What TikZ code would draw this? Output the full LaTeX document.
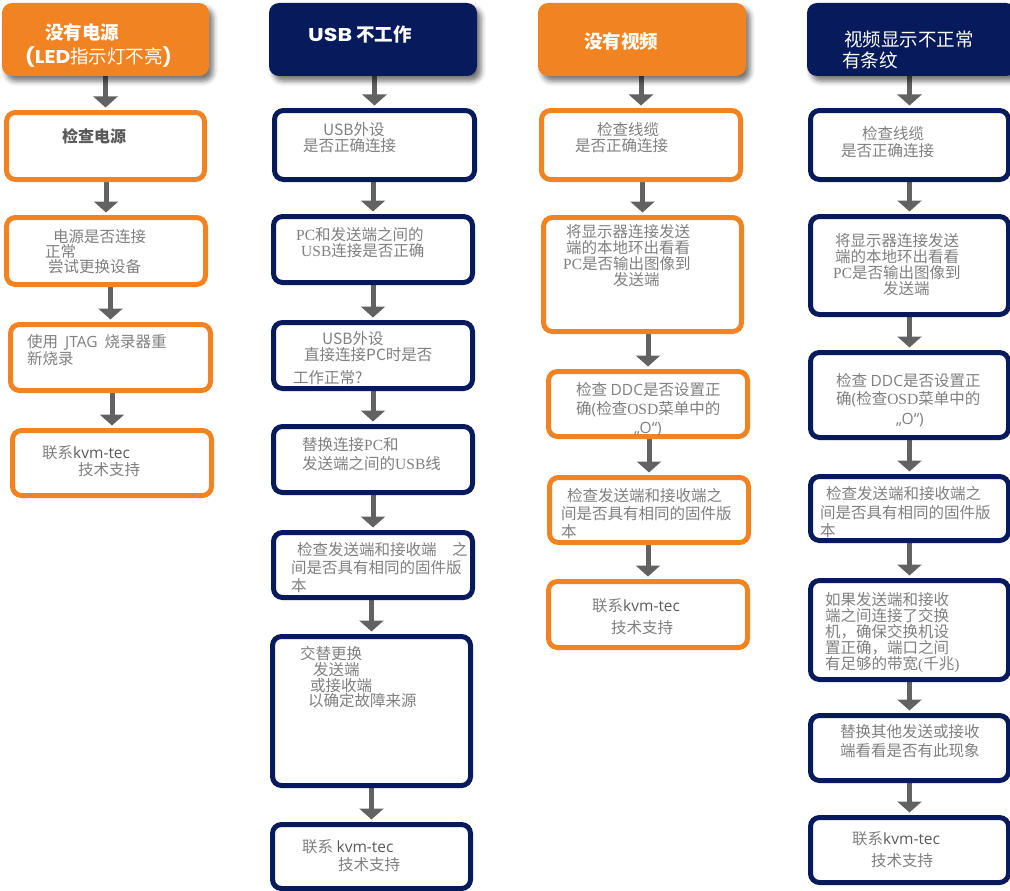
\documentclass[tikz,border=0pt]{standalone}
\usepackage{fontspec}
\setmainfont{Noto Sans CJK SC}
\newfontfamily\os{Open Sans}
\newfontfamily\ser{Liberation Serif}
\newfontfamily\pop{Poppins}
\usetikzlibrary{arrows.meta,shadows.blur,backgrounds}
\definecolor{kor}{HTML}{F28322}
\definecolor{knv}{HTML}{071A5B}
\definecolor{kar}{HTML}{626262}
\definecolor{ktx}{HTML}{808080}
\definecolor{kdk}{HTML}{5A5A5A}
\tikzset{
  obox/.style={draw=kor, line width=5pt, rounded corners=9pt, fill=white, inner sep=0pt},
  nbox/.style={draw=knv, line width=5pt, rounded corners=9pt, fill=white, inner sep=0pt},
  hdrshadow/.style={blur shadow={shadow xshift=4pt, shadow yshift=-5pt, shadow blur radius=5pt, shadow opacity=55}},
  ohdr/.style={fill=kor, rounded corners=10pt, inner sep=0pt, hdrshadow},
  nhdr/.style={fill=knv, rounded corners=10pt, inner sep=0pt, hdrshadow},
  txt/.style={text=ktx, font=\fontsize{15.5}{16}\selectfont, inner sep=0pt, anchor=west, text height=10.5pt, text depth=1pt},
  htxt/.style={text=white, font=\fontsize{18.5}{19}\selectfont, inner sep=0pt, anchor=west},
  arr/.style={draw=kar, line width=5pt, -{Triangle[width=24pt,length=11pt]}, shorten >=2.5pt},
}
\newcommand\mybx[6]{\node[#2, minimum width={(#5-#3-5)*1pt}, minimum height={(#6-#4-5)*1pt}] (#1) at ({(#3+#5)/2},{(#4+#6)/2}) {};}
\newcommand\myhd[6]{\node[#2, minimum width={(#5-#3)*1pt}, minimum height={(#6-#4)*1pt}] (#1) at ({(#3+#5)/2},{(#4+#6)/2}) {};}
\newcommand\mytl[4]{\node[txt] (#1) at (#2,#3) {#4};}
\newcommand\myht[4]{\node[htxt] (#1) at (#2,#3) {#4};}
\newcommand\myar[2]{\draw[arr] (#2.north |- #1.south) -- (#2.north);}
\begin{document}
\begin{tikzpicture}[x=1pt,y=-1pt]
\useasboundingbox (0,0) rectangle (1010,891);
\clip (0,0) rectangle (1010,891);
% ---------- column 1 ----------
\myhd{c1h}{ohdr}{2}{3}{209}{76}
\mybx{c1b1}{obox}{4}{110}{207}{182}
\mybx{c1b2}{obox}{4}{215}{208}{287}
\mybx{c1b3}{obox}{8}{322}{213}{393}
\mybx{c1b4}{obox}{10}{428}{214}{498}
% ---------- column 2 ----------
\myhd{c2h}{nhdr}{269}{3}{477}{76}
\mybx{c2b1}{nbox}{272}{108}{477}{182}
\mybx{c2b2}{nbox}{271}{214}{475}{285}
\mybx{c2b3}{nbox}{271}{320}{475}{391}
\mybx{c2b4}{nbox}{271}{424}{475}{495}
\mybx{c2b5}{nbox}{271}{530}{475}{600}
\mybx{c2b6}{nbox}{270}{634}{473}{788}
\mybx{c2b7}{nbox}{270}{822}{473}{891}
% ---------- column 3 ----------
\myhd{c3h}{ohdr}{538}{3}{746}{76}
\mybx{c3b1}{obox}{539}{108}{743}{182}
\mybx{c3b2}{obox}{541}{215}{744}{334}
\mybx{c3b3}{obox}{546}{369}{750}{439}
\mybx{c3b4}{obox}{547}{475}{751}{545}
\mybx{c3b5}{obox}{546}{579}{750}{650}
% ---------- column 4 ----------
\myhd{c4h}{nhdr}{807}{3}{1016}{76}
\mybx{c4b1}{nbox}{808}{108}{1011}{182}
\mybx{c4b2}{nbox}{808}{214}{1011}{317}
\mybx{c4b3}{nbox}{808}{350}{1011}{440}
\mybx{c4b4}{nbox}{808}{474}{1011}{543}
\mybx{c4b5}{nbox}{808}{578}{1011}{682}
\mybx{c4b6}{nbox}{808}{713}{1011}{783}
\mybx{c4b7}{nbox}{808}{815}{1011}{885}
% ---------- arrows ----------
\begin{pgfonlayer}{background}
\myar{c1h}{c1b1}\myar{c1b1}{c1b2}\myar{c1b2}{c1b3}\myar{c1b3}{c1b4}
\myar{c2h}{c2b1}\myar{c2b1}{c2b2}\myar{c2b2}{c2b3}\myar{c2b3}{c2b4}\myar{c2b4}{c2b5}\myar{c2b5}{c2b6}\myar{c2b6}{c2b7}
\myar{c3h}{c3b1}\myar{c3b1}{c3b2}\myar{c3b2}{c3b3}\myar{c3b3}{c3b4}\myar{c3b4}{c3b5}
\myar{c4h}{c4b1}\myar{c4b1}{c4b2}\myar{c4b2}{c4b3}\myar{c4b3}{c4b4}\myar{c4b4}{c4b5}\myar{c4b5}{c4b6}\myar{c4b6}{c4b7}
\end{pgfonlayer}
% ---------- header texts ----------
\myht{c1ha}{45}{32}{\bfseries 没有电源}
\myht{c1hb}{25}{57}{{\pop\bfseries\scalebox{1.1}[1]{(LED}}指示灯不亮{\pop\bfseries)}}
\myht{c2ha}{308}{35}{{\pop\bfseries\scalebox{1.2}[1]{USB}} \bfseries 不工作}
\myht{c3ha}{584}{42}{\bfseries 没有视频}
\myht{c4ha}{844}{39}{视频显示不正常}
\myht{c4hb}{842}{60}{有条纹}
% ---------- column 1 texts ----------
\node[txt, text=kdk, font=\fontsize{16}{16}\selectfont\bfseries] (c1b1a) at (62,138) {检查电源};
\mytl{c1b2a}{53}{238}{电源是否连接}
\mytl{c1b2b}{45}{253}{正常}
\mytl{c1b2c}{48}{268}{尝试更换设备}
\mytl{c1b3a}{27}{343}{使用\hspace{7pt}{\os JTAG}\hspace{7pt}烧录器重}
\mytl{c1b3b}{27}{360}{新烧录}
\mytl{c1b4a}{42}{454}{联系{\os\color{kdk}kvm-tec}}
\mytl{c1b4b}{78}{471}{技术支持}
% ---------- column 2 texts ----------
\mytl{c2b1a}{323}{131}{USB外设}
\mytl{c2b1b}{303}{147}{是否正确连接}
\mytl{c2b2a}{296}{236}{{\ser PC}和发送端之间的}
\mytl{c2b2b}{301}{252}{{\ser USB}连接是否正确}
\mytl{c2b3a}{322}{340}{USB外设}
\mytl{c2b3b}{304}{356}{直接连接PC时是否}
\mytl{c2b3c}{293}{379}{工作正常?}
\mytl{c2b4a}{302}{446}{替换连接{\ser PC}和}
\mytl{c2b4b}{302}{465}{发送端之间的{\ser USB}线}
\mytl{c2b5a}{297}{551}{检查发送端和接收端　之}
\mytl{c2b5b}{291}{569}{间是否具有相同的固件版}
\mytl{c2b5c}{291}{587}{本}
\mytl{c2b6a}{300}{655}{交替更换}
\mytl{c2b6b}{313}{671}{发送端}
\mytl{c2b6c}{310}{687}{或接收端}
\mytl{c2b6d}{308}{702}{以确定故障来源}
\mytl{c2b7a}{302}{848}{联系 {\os\color{kdk}kvm-tec}}
\mytl{c2b7b}{338}{866}{技术支持}
% ---------- column 3 texts ----------
\mytl{c3b1a}{597}{131}{检查线缆}
\mytl{c3b1b}{575}{147}{是否正确连接}
\mytl{c3b2a}{566}{233}{将显示器连接发送}
\mytl{c3b2b}{566}{249}{端的本地环出看看}
\mytl{c3b2c}{563}{265}{{\ser PC}是否输出图像到}
\mytl{c3b2d}{613}{281}{发送端}
\mytl{c3b3a}{576}{391}{检查 {\os DDC}是否设置正}
\mytl{c3b3b}{576}{410}{确{\os (}检查{\ser OSD}菜单中的}
\mytl{c3b3c}{634}{429}{{\os „O“)}}
\mytl{c3b4a}{567}{497}{检查发送端和接收端之}
\mytl{c3b4b}{561}{515}{间是否具有相同的固件版}
\mytl{c3b4c}{561}{533}{本}
\mytl{c3b5a}{592}{607}{联系{\os\color{kdk}kvm-tec}}
\mytl{c3b5b}{611}{629}{技术支持}
% ---------- column 4 texts ----------
\mytl{c4b1a}{862}{135}{检查线缆}
\mytl{c4b1b}{841}{152}{是否正确连接}
\mytl{c4b2a}{835}{242}{将显示器连接发送}
\mytl{c4b2b}{835}{258}{端的本地环出看看}
\mytl{c4b2c}{833}{274}{{\ser PC}是否输出图像到}
\mytl{c4b2d}{883}{290}{发送端}
\mytl{c4b3a}{836}{382}{检查 {\os DDC}是否设置正}
\mytl{c4b3b}{836}{400}{确{\os (}检查{\ser OSD}菜单中的}
\mytl{c4b3c}{896}{420}{{\os „O“)}}
\mytl{c4b4a}{826}{495}{检查发送端和接收端之}
\mytl{c4b4b}{820}{514}{间是否具有相同的固件版}
\mytl{c4b4c}{820}{532}{本}
\mytl{c4b5a}{825}{601}{如果发送端和接收}
\mytl{c4b5b}{825}{617}{端之间连接了交换}
\mytl{c4b5c}{825}{633}{机，确保交换机设}
\mytl{c4b5d}{825}{649}{置正确，端口之间}
\mytl{c4b5e}{825}{665}{有足够的带宽{\ser(}千兆{\ser)}}
\mytl{c4b6a}{840}{733}{替换其他发送或接收}
\mytl{c4b6b}{840}{752}{端看看是否有此现象}
\mytl{c4b7a}{852}{840}{联系{\os\color{kdk}kvm-tec}}
\mytl{c4b7b}{871}{862}{技术支持}
\end{tikzpicture}
\end{document}
